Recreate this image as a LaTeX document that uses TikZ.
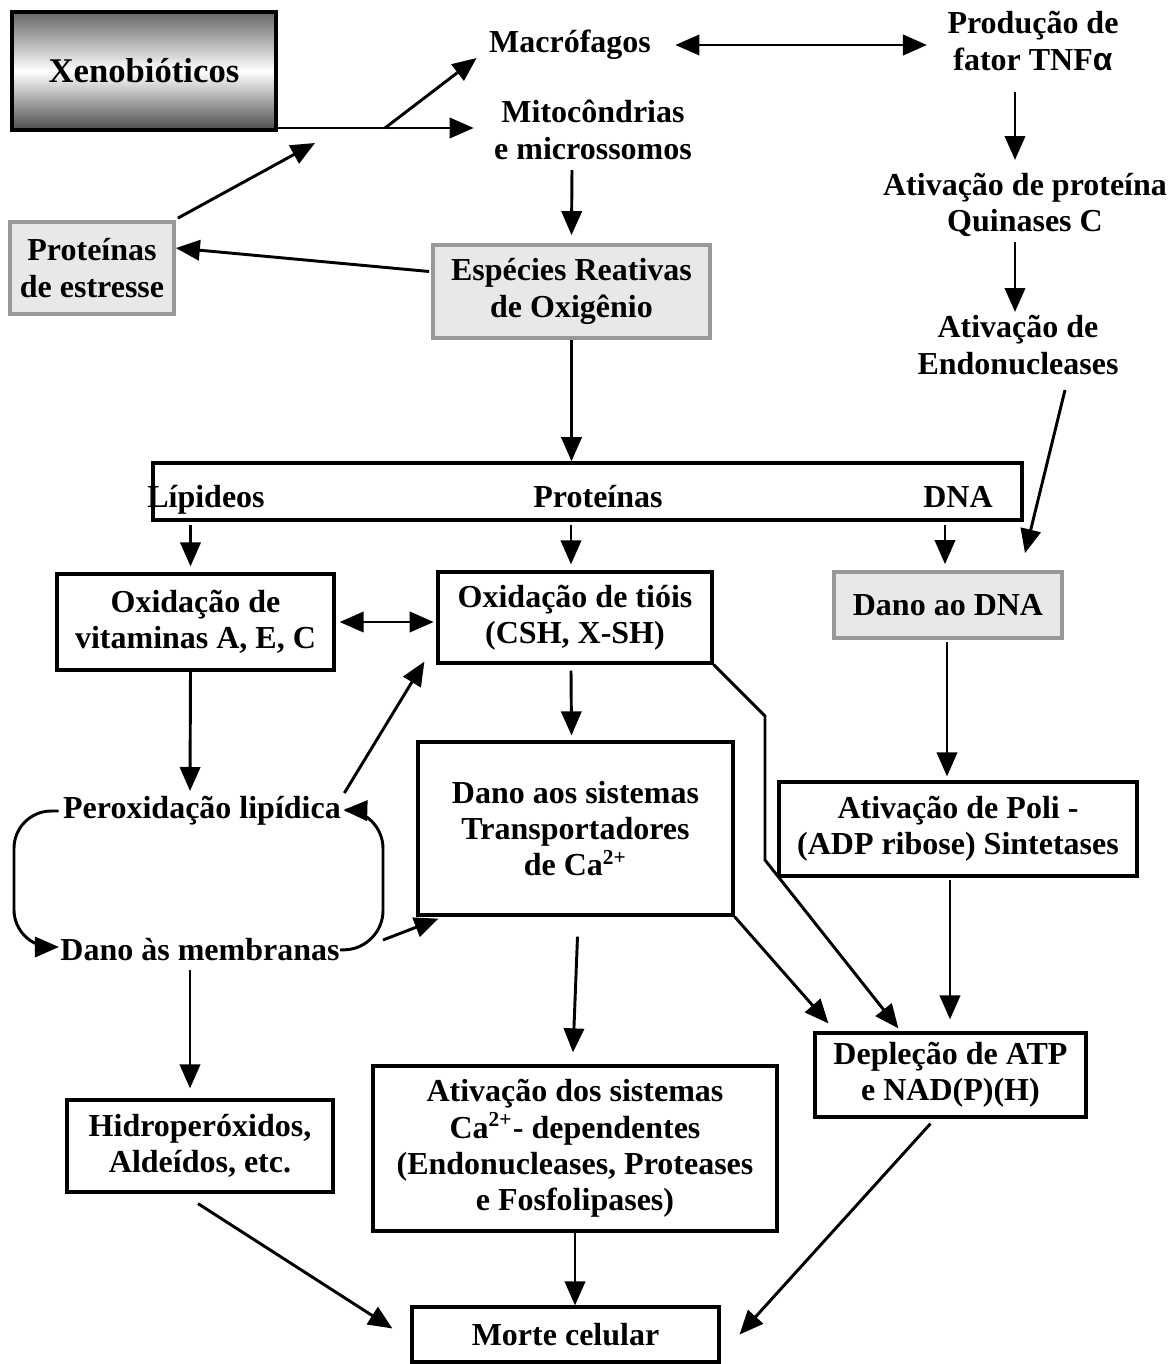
\documentclass[tikz,border=0pt]{standalone}
\usepackage{fontspec}
\setmainfont{Liberation Serif}
\newfontfamily\alfafont{Liberation Sans}
\usepackage{tikz}
\usetikzlibrary{arrows.meta, calc}

\begin{document}
\begin{tikzpicture}[x=0.375pt, y=-0.375pt,
    font=\fontsize{12}{13.6}\selectfont\bfseries,
    seta/.style={line width=1.1pt, -{Triangle[length=9pt, width=7.6pt]}},
    duasetas/.style={line width=1.1pt, {Triangle[length=9pt, width=7.6pt]}-{Triangle[length=9pt, width=7.6pt]}},
    linha/.style={line width=1.1pt},
    caixa/.style={draw, line width=1.2pt, align=center, inner sep=0pt},
    cinza/.style={draw=black!40, fill=black!9, line width=1.4pt, align=center, inner sep=0pt},
    rotulo/.style={align=center, inner sep=0pt}]

    \useasboundingbox (0,0) rectangle (1174,1364);

    \node[caixa, line width=1.6pt, minimum width=99pt, minimum height=44.25pt,
        top color=black!60, bottom color=black!70, middle color=white,
        font=\fontsize{13}{15}\selectfont\bfseries] (xeno) at (144,71) {Xenobióticos};
    \node[rotulo] (macro) at (570,45) {Macrófagos};
    \node[rotulo] (mito) at (593,130) {Mitocôndrias\\e microssomos};
    \node[rotulo] (tnf) at (1033,41) {Produção de\\fator TNF{\alfafont α}};
    \node[rotulo] (pkc) at (1025,205) {Ativação de proteína\\Quinases C};
    \node[rotulo] (endo) at (1018,345) {Ativação de\\Endonucleases};
    \node[cinza, minimum width=61.5pt, minimum height=34.5pt] (estresse) at (92,268) {Proteínas\\de estresse};
    \node[cinza, minimum width=103.9pt, minimum height=34.9pt] (ero) at (571.5,291.5) {Espécies Reativas\\de Oxigênio};

    \node[caixa, line width=1.3pt, minimum width=325.9pt, minimum height=21.4pt] (alvo) at (587.5,491.5) {};
    \node[rotulo, anchor=base] (lip) at (206,507) {Lípideos};
    \node[rotulo, anchor=base] (prot) at (598,507) {Proteínas};
    \node[rotulo, anchor=base] (dna) at (958,507) {DNA};

    \node[caixa, minimum width=103.9pt, minimum height=36pt] (vitaminas) at (195.5,622) {Oxidação de\\vitaminas A, E, C};
    \node[caixa, minimum width=102.75pt, minimum height=34.1pt] (tiois) at (575,617.5) {Oxidação de tióis\\(CSH, X-SH)};
    \node[cinza, minimum width=85.5pt, minimum height=24.75pt] (dnadano) at (948,605) {Dano ao DNA};
    \node[rotulo] (perox) at (202,811) {Peroxidação lipídica};
    \node[rotulo] (membr) at (200,950) {Dano às membranas};
    \node[caixa, minimum width=118.1pt, minimum height=64.9pt] (transp) at (575.5,828.5) {Dano aos sistemas\\Transportadores\\de Ca\textsuperscript{2+}};
    \node[caixa, minimum width=134.25pt, minimum height=35.25pt] (poli) at (958,829) {Ativação de Poli -\\(ADP ribose) Sintetases};
    \node[caixa, minimum width=101.6pt, minimum height=31.5pt] (deplecao) at (950.5,1075) {Depleção de ATP\\e NAD(P)(H)};
    \node[caixa, minimum width=99.75pt, minimum height=34.5pt] (hidro) at (200,1146) {Hidroperóxidos,\\Aldeídos, etc.};
    \node[caixa, minimum width=151.5pt, minimum height=61.9pt] (ativca) at (575,1148.5) {Ativação dos sistemas\\Ca\textsuperscript{2+}- dependentes\\(Endonucleases, Proteases\\e Fosfolipases)};
    \node[caixa, minimum width=115.1pt, minimum height=20.6pt] (morte) at (565.5,1334.5) {Morte celular};

    \coordinate (ramo) at (385,128);
    \coordinate (retorno) at (315,143);
    \coordinate (juncao) at (383,940);

    \draw[linha] (ramo -| xeno.east) -- (ramo);
    \draw[seta, shorten >=7.5pt] (ramo) -- (ramo -| mito.west);
    \draw[seta] (ramo) -- ($(macro.west)+(-12,13)$);
    \draw[duasetas] ($(macro.east)+(24,0)$) -- ($(tnf.west |- macro.east)+(-20,0)$);
    \draw[seta] ($(tnf)+(-18,51)$) -- ($(pkc)+(-10,-45)$);
    \draw[seta] ($(pkc)+(-10,37)$) -- ($(endo)+(-3,-33)$);
    \draw[seta] ($(endo)+(47,45)$) -- ($(dnadano.north)+(77,-17)$);
    \draw[seta] ($(mito)+(-21,40)$) -- ($(ero.north)+(0,-8)$);
    \draw[seta] ($(ero.west)+(-2,-20)$) -- ($(estresse.east)+(0,-20)$);
    \draw[seta] ($(estresse.north east)+(2,-2)$) -- (retorno);
    \draw[seta] (ero.south) -- (ero.south |- alvo.north);

    \draw[seta] ($(vitaminas.north |- alvo.south)+(-5,3)$) -- ($(vitaminas.north)+(-5,-6)$);
    \draw[seta] ($(tiois.north |- alvo.south)+(-4,3)$) -- ($(tiois.north)+(-4,-6)$);
    \draw[seta] ($(dnadano.north |- alvo.south)+(-3,3)$) -- ($(dnadano.north)+(-3,-6)$);
    \draw[duasetas, shorten <=1.5pt, shorten >=1pt] (vitaminas.east) -- (vitaminas.east -| tiois.west);

    \draw[seta] ($(vitaminas.south)+(-5,0)$) -- ($(perox)+(-12,-20)$);
    \draw[seta] ($(perox.east)+(3,-18)$) -- ($(tiois.south west)+(-12,-3)$);
    \draw[seta] ($(tiois.south)+(-4,6)$) -- ($(transp.north)+(-4,-5)$);
    \draw[seta, rounded corners=14pt] ($(perox.west)+(-4,0)$) -- (14,811) -- (14,947) -- ($(membr.west)+(-1,-3)$);
    \draw[seta, rounded corners=14pt] (membr.east) -- (383,948) -- (383,811) -- ($(perox.east)+(2,-1)$);
    \draw[seta] (juncao) -- ($(transp.south west)+(22,2)$);
    \draw[seta] ($(membr)+(-10,20)$) -- ($(hidro.north)+(-10,-10)$);

    \draw[seta] ($(transp.south)+(2,20)$) -- ($(ativca.north)+(-2,-12)$);
    \draw[seta] (ativca.south) -- (ativca.south |- morte.north);
    \draw[seta] ($(hidro.south)+(-2,10)$) -- ($(morte.west)+(-18,-6)$);
    \draw[seta] ($(deplecao.south)+(-20,5)$) -- ($(morte.east)+(19,0)$);

    \draw[seta] (tiois.south east) -- (765,716) -- (765,860) -- ($(deplecao.north west)+(85,-3)$);
    \draw[seta] (transp.south east) -- ($(deplecao.north west)+(15,-8)$);
    \draw[seta] ($(dnadano.south)+(-1,2)$) -- ($(poli.north)+(-11,-4)$);
    \draw[seta] ($(poli.south)+(-8,2)$) -- ($(deplecao.north)+(-0.5,-12)$);
\end{tikzpicture}
\end{document}
